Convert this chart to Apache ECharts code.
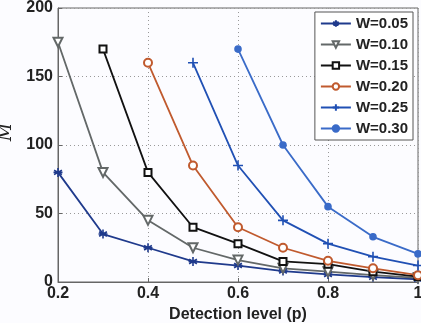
<!DOCTYPE html>
<html>
<head>
<meta charset="utf-8">
<script src="https://cdn.jsdelivr.net/npm/echarts@6/dist/echarts.min.js"></script>
<style>
  html, body { margin: 0; padding: 0; background: #fcfcff; }
  #chart { width: 421px; height: 323px; }
</style>
</head>
<body>
<div id="chart"></div>
<script>
// detection levels (p)
const levels = [0.2, 0.3, 0.4, 0.5, 0.6, 0.7, 0.8, 0.9, 1.0];

// estimated M-hat per W, null where no point exists
const w005 = [80, 35, 25, 15, 12, 8, 5.5, 3.5, 2];
const w010 = [175, 80, 45, 25, 16, 10, 7.5, 5, 3];
const w015 = [null, 170, 80, 40, 28, 15, 13, 7.5, 4];
const w020 = [null, null, 160, 85, 40, 25, 15.5, 10, 5];
const w025 = [null, null, null, 160, 85, 45, 28, 18.5, 12];
const w030 = [null, null, null, null, 170, 100, 55, 33, 20.5];

const yTicks = [0, 50, 100, 150, 200];

const starPath = 'path://M5,0L5,10M0.67,2.5L9.33,7.5M0.67,7.5L9.33,2.5M0,5L10,5';
const plusPath = 'path://M5,0L5,10M0,5L10,5';

const chart = echarts.init(document.getElementById('chart'));

function mkSeries(name, values, color, symbol, size, extra) {
  const data = [];
  levels.forEach((p, i) => {
    if (values[i] !== null) data.push([p, values[i]]);
  });
  return Object.assign({
    name: name,
    type: 'line',
    data: data,
    symbol: symbol,
    symbolSize: size,
    lineStyle: { color: color, width: 1.8 },
    itemStyle: { color: color, borderColor: color, borderWidth: 1.6 },
    emphasis: { disabled: true },
    animation: false
  }, extra || {});
}

const option = {
  backgroundColor: '#fcfcff',
  animation: false,
  grid: {
    left: 58, right: 3, top: 8, bottom: 41,
    outerBoundsMode: 'none',
    show: true, borderColor: '#666', borderWidth: 1
  },
  legend: {
    orient: 'vertical',
    right: 8,
    top: 12,
    backgroundColor: '#ffffff',
    borderColor: '#555',
    borderWidth: 1,
    padding: [4, 5, 4, 5],
    itemWidth: 30,
    itemHeight: 8,
    itemGap: 6,
    textStyle: { fontFamily: 'Liberation Sans', fontWeight: 'bold', fontSize: 15, color: '#222' },
    data: ['W=0.05', 'W=0.10', 'W=0.15', 'W=0.20', 'W=0.25', 'W=0.30']
  },
  xAxis: {
    type: 'value',
    min: 0.2,
    max: 1,
    interval: 0.2,
    name: 'Detection level (p)',
    nameLocation: 'middle',
    nameGap: 24,
    nameTextStyle: { fontFamily: 'Liberation Sans', fontWeight: 'bold', fontSize: 16, color: '#222' },
    axisLine: { show: true, lineStyle: { color: '#666' } },
    axisTick: { show: true, inside: true, length: 4, lineStyle: { color: '#666' } },
    axisLabel: {
      fontFamily: 'Liberation Sans', fontWeight: 'bold', fontSize: 16, color: '#222', margin: 4,
      formatter: v => (Math.abs(v - 1) < 1e-9 ? '1' : v.toFixed(1))
    },
    splitLine: { show: true, lineStyle: { color: '#999', type: [1, 3] } }
  },
  yAxis: {
    type: 'value',
    min: yTicks[0],
    max: yTicks[yTicks.length - 1],
    interval: 50,
    name: 'M\u0302',
    nameLocation: 'middle',
    nameRotate: 90,
    nameGap: 38,
    nameTextStyle: { fontFamily: 'DejaVu Serif', fontStyle: 'italic', fontSize: 18, color: '#222', padding: [0, 0, 0, 26] },
    axisLine: { show: true, lineStyle: { color: '#666' } },
    axisTick: { show: true, inside: true, length: 4, lineStyle: { color: '#666' } },
    axisLabel: { fontFamily: 'Liberation Sans', fontWeight: 'bold', fontSize: 16, color: '#222', margin: 5 },
    splitLine: { show: true, lineStyle: { color: '#999', type: [1, 3] } }
  },
  series: [
    mkSeries('W=0.05', w005, '#1f3a8c', starPath, 9),
    mkSeries('W=0.10', w010, '#636868', 'emptyTriangle', 9, { symbolRotate: 180 }),
    mkSeries('W=0.15', w015, '#111111', 'emptyRect', 7),
    mkSeries('W=0.20', w020, '#c05a2e', 'emptyCircle', 8),
    mkSeries('W=0.25', w025, '#2050b4', plusPath, 10),
    mkSeries('W=0.30', w030, '#3a6bc8', 'circle', 6)
  ]
};

chart.setOption(option);
</script>
</body>
</html>
